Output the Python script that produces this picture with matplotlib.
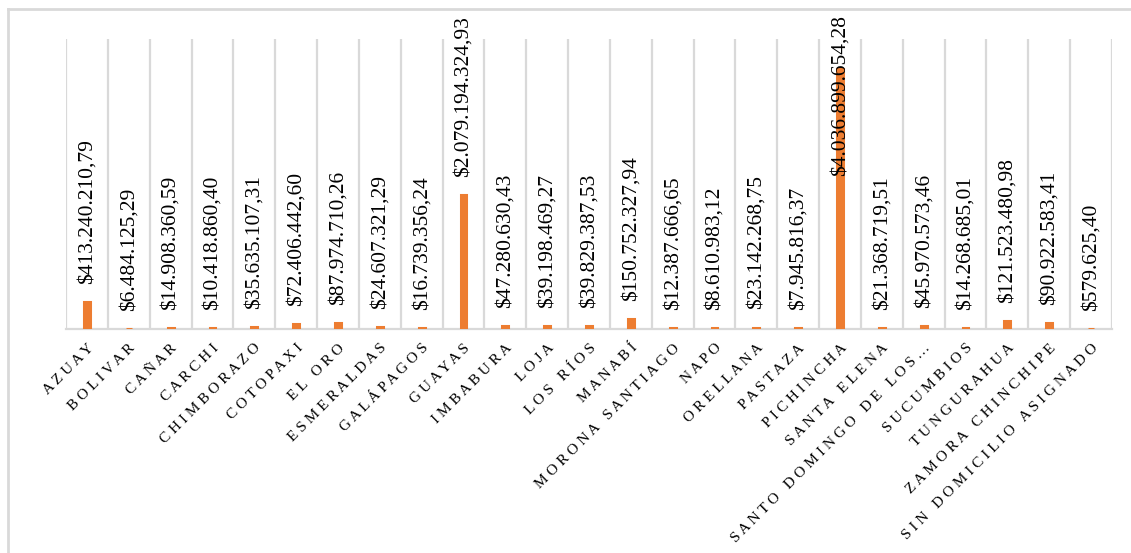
import matplotlib
matplotlib.use('Agg')
import matplotlib.pyplot as plt

ORANGE = '#ED7D31'
GRID = '#D9D9D9'
W, H = 1131, 553

provincias = ['AZUAY', 'BOLIVAR', 'CAÑAR', 'CARCHI', 'CHIMBORAZO', 'COTOPAXI',
              'EL ORO', 'ESMERALDAS', 'GALÁPAGOS', 'GUAYAS', 'IMBABURA', 'LOJA',
              'LOS RÍOS', 'MANABÍ', 'MORONA SANTIAGO', 'NAPO', 'ORELLANA',
              'PASTAZA', 'PICHINCHA', 'SANTA ELENA', 'SANTO DOMINGO DE LOS…',
              'SUCUMBIOS', 'TUNGURAHUA', 'ZAMORA CHINCHIPE', 'SIN DOMICILIO ASIGNADO']
montos = [413240210.79, 6484125.29, 14908360.59, 10418860.40, 35635107.31,
          72406442.60, 87974710.26, 24607321.29, 16739356.24, 2079194324.93,
          47280630.43, 39198469.27, 39829387.53, 150752327.94, 12387666.65,
          8610983.12, 23142268.75, 7945816.37, 4036899654.28, 21368719.51,
          45970573.46, 14268685.01, 121523480.98, 90922583.41, 579625.40]


def fmt(v):
    s = f'{v:,.2f}'
    return '$' + s.replace(',', 'X').replace('.', ',').replace('X', '.')


def spaced(name):
    # letter-spaced like the original axis labels
    return '   '.join(' '.join(w) for w in name.split(' '))


plt.rcParams['font.family'] = ['Liberation Serif', 'DejaVu Serif']

fig = plt.figure(figsize=(W / 100, H / 100), dpi=100)
ax = fig.add_axes([66 / W, 1 - 329 / H, (1112 - 66) / W, (329 - 39) / H])

x = list(range(len(provincias)))
ax.bar(x, montos, width=0.14, color=ORANGE, edgecolor=ORANGE, linewidth=2.2,
       joinstyle='miter', zorder=3)
ax.set_xlim(-0.5, len(provincias) - 0.5)
ax.set_ylim(0, 4.5e9)

for b in range(len(provincias) + 1):
    ax.axvline(b - 0.5, color=GRID, lw=1.6, zorder=1)

for s in ['top', 'right', 'left']:
    ax.spines[s].set_visible(False)
ax.spines['bottom'].set_color(GRID)
ax.spines['bottom'].set_linewidth(1.6)
ax.spines['bottom'].set_zorder(2)
ax.set_yticks([])
ax.set_xticks(x)
ax.set_xticklabels([spaced(p) for p in provincias], rotation=45, ha='right',
                   va='top', rotation_mode='anchor', fontsize=11)
ax.tick_params(axis='x', length=0, pad=9)

# chart area border (only top and left visible)
fig.add_artist(plt.Line2D([8 / W, 8 / W], [0, 1 - 9 / H], color=GRID, lw=2))
fig.add_artist(plt.Line2D([8 / W, 1], [1 - 9 / H, 1 - 9 / H], color=GRID, lw=2))

labels = []
for i, v in enumerate(montos):
    t = ax.annotate(fmt(v), xy=(i, v), xytext=(0, 13), textcoords='offset points',
                    rotation=90, ha='center', va='bottom', fontsize=15.5, zorder=5)
    labels.append(t)

# labels that would leave the chart are pushed down, like Excel does
fig.canvas.draw()
r = fig.canvas.get_renderer()
for i, t in enumerate(labels):
    ext = t.get_window_extent(r)
    if ext.y1 > H - 11:
        bar_top = ax.transData.transform((i, montos[i]))[1]
        off = (H - 15 - ext.height - bar_top) * 72 / 100
        t.xyann = (0, off)

fig.savefig('out.png', dpi=100, facecolor='white')
